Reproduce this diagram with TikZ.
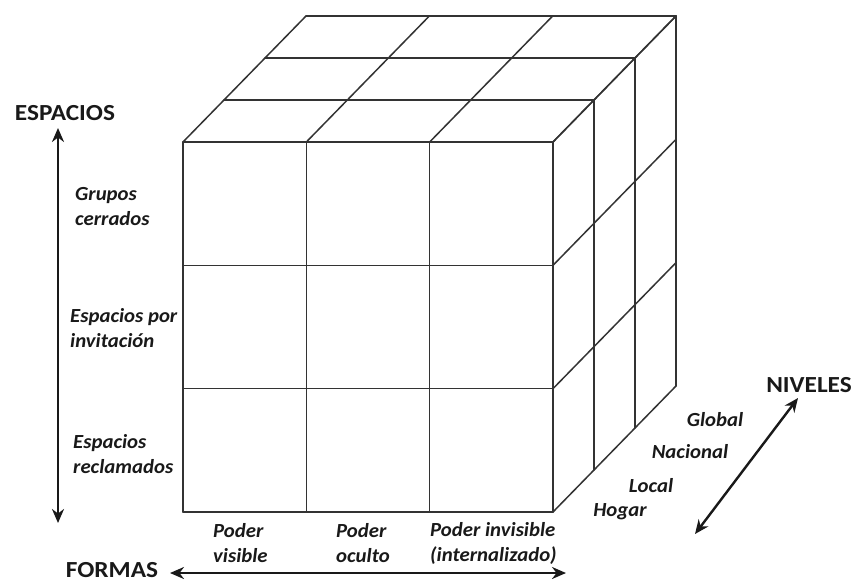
\documentclass[tikz,border=0pt]{standalone}
\usepackage{fontspec}
\setmainfont{Carlito}
\newfontfamily\hdrfont[FakeStretch=1.1]{Carlito}
\newfontfamily\lblfont[FakeStretch=1.04]{Carlito}
\usetikzlibrary{arrows.meta}
\begin{document}
\begin{tikzpicture}[x=1pt,y=-1pt,
  cubeline/.style={draw=black!80,line width=1.5pt,line cap=round,line join=round},
  axisarrow/.style={draw=black!90,line width=2.4pt,{Stealth[length=14pt,width=12pt]}-{Stealth[length=14pt,width=12pt]}},
  header/.style={font=\hdrfont\fontsize{23}{27}\selectfont\bfseries,text=black!90,inner sep=0pt},
  lbl/.style={font=\lblfont\fontsize{20}{25}\selectfont\bfseries\itshape,text=black!90,inner sep=0pt,align=left}]
\path[use as bounding box,fill=white] (0,0) rectangle (856,582);
\def\xo{183}\def\yo{142}\def\s{123.33}\def\dx{41}\def\dy{42}
% front face
\foreach \i in {0,1,2,3}{
  \draw[cubeline] ({\xo+\i*\s},\yo) -- ({\xo+\i*\s},{\yo+3*\s});
  \draw[cubeline] (\xo,{\yo+\i*\s}) -- ({\xo+3*\s},{\yo+\i*\s});
}
% top face and right face layers
\foreach \k in {1,2,3}{
  \draw[cubeline] ({\xo+\k*\dx},{\yo-\k*\dy}) -- ({\xo+3*\s+\k*\dx},{\yo-\k*\dy});
  \draw[cubeline] ({\xo+3*\s+\k*\dx},{\yo-\k*\dy}) -- ({\xo+3*\s+\k*\dx},{\yo+3*\s-\k*\dy});
}
\foreach \i in {0,1,2,3}{
  \draw[cubeline] ({\xo+\i*\s},\yo) -- ({\xo+\i*\s+3*\dx},{\yo-3*\dy});
  \draw[cubeline] ({\xo+3*\s},{\yo+\i*\s}) -- ({\xo+3*\s+3*\dx},{\yo+\i*\s-3*\dy});
}
% headers
\node[header,anchor=base] (esp) at (65,120) {ESPACIOS};
\node[header,anchor=base] (for) at (112,577) {FORMAS};
\node[header,anchor=base] (niv) at (809,392) {NIVELES};
% axes
\coordinate (e1) at (58,128); \coordinate (e2) at (58,523);
\coordinate (f1) at (170,573); \coordinate (f2) at (566,573);
\coordinate (n1) at (695,534); \coordinate (n2) at (798,398);
\draw[axisarrow] (e1) -- (e2);
\draw[axisarrow] (f1) -- (f2);
\draw[axisarrow] (n1) -- (n2);
% espacios labels
\node[lbl,anchor=west] (gc) at (75,207) {Grupos\\cerrados};
\node[lbl,anchor=west] (ei) at (70,328) {Espacios por\\invitación};
\node[lbl,anchor=west] (er) at (73,454) {Espacios\\reclamados};
% formas labels
\node[lbl,anchor=west] (pv) at (213,543) {Poder\\visible};
\node[lbl,anchor=west] (po) at (336,543) {Poder\\oculto};
\node[lbl,anchor=west] (pi) at (430,543) {Poder invisible\\(internalizado)};
% niveles labels
\node[lbl,anchor=base] (gl) at (715,426) {Global};
\node[lbl,anchor=base] (na) at (690,458) {Nacional};
\node[lbl,anchor=base] (lo) at (651,492) {Local};
\node[lbl,anchor=base] (ho) at (620,516) {Hogar};
\end{tikzpicture}
\end{document}
